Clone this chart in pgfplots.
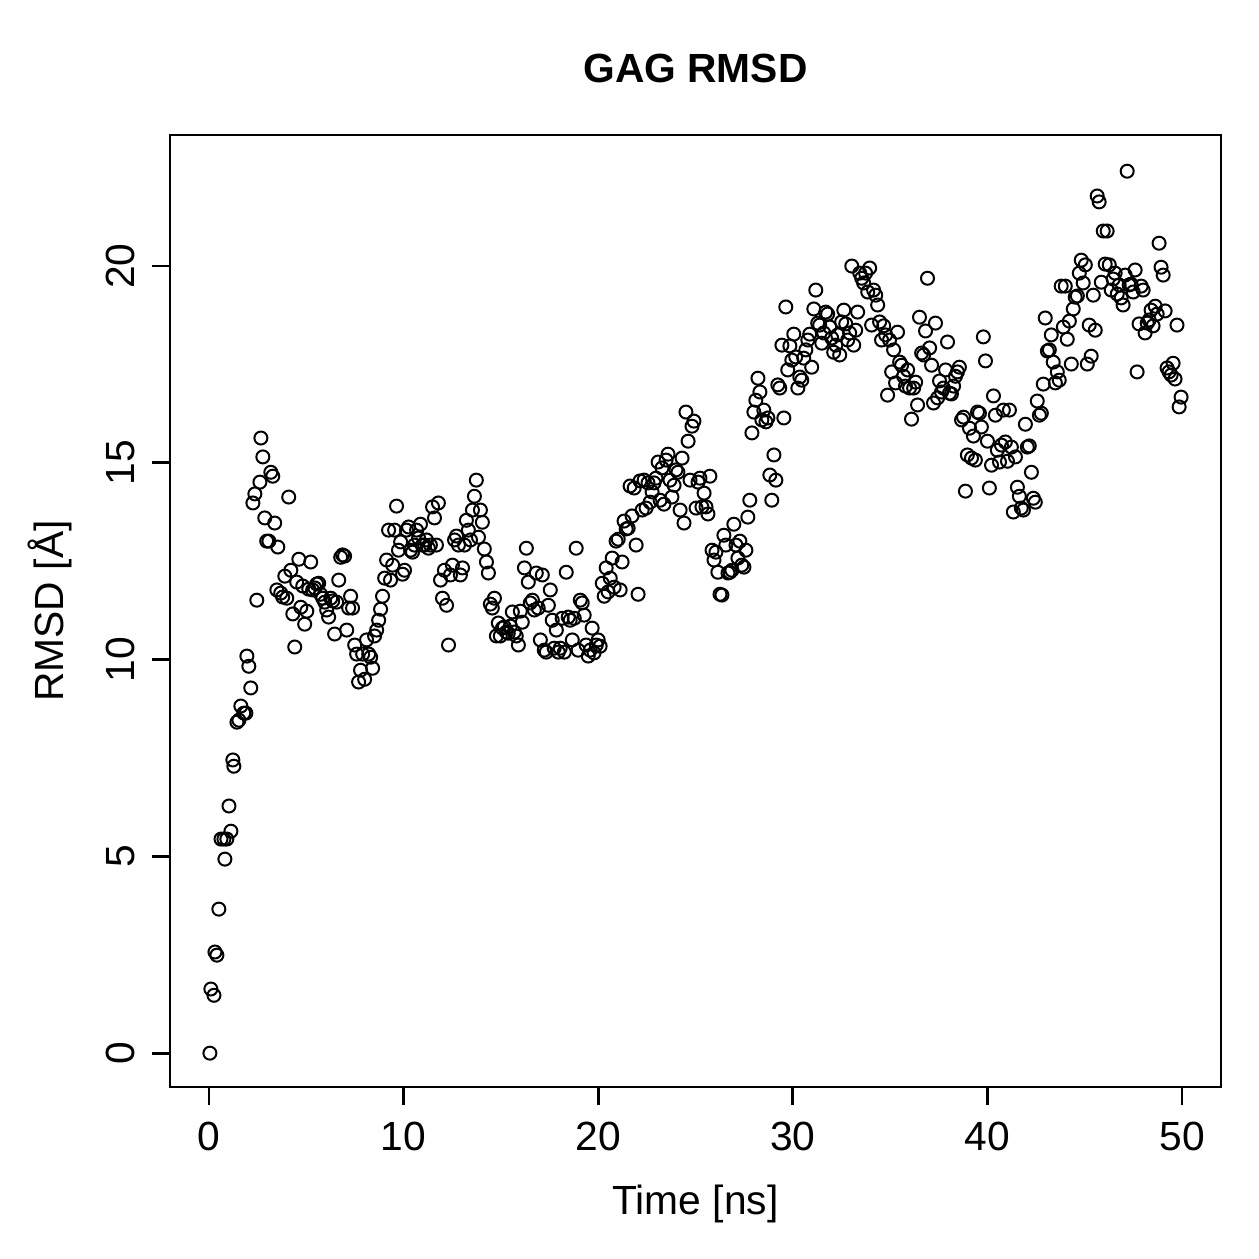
\documentclass[border=0pt]{standalone}
\usepackage{fontspec}
\setmainfont{Liberation Sans}
\usepackage{pgfplots}
\pgfplotsset{compat=1.18}
\begin{document}
\begin{tikzpicture}
\begin{axis}[
  at={(0,0)}, anchor=south west,
  scale only axis, width=420.4pt, height=380.8pt,
  xmin=-2, xmax=52, ymin=-0.86, ymax=23.33,
  xtick={0,10,20,30,40,50}, ytick={0,5,10,15,20},
  xtick pos=bottom, ytick pos=left,
  tick align=outside, major tick length=7.2pt,
  axis line style={line width=1.1pt}, tick style={line width=1.1pt, black},
  /pgf/number format/assume math mode=true,
  font=\fontsize{16.3}{19}\selectfont,
  ticklabel style={font=\fontsize{16.3}{19}\selectfont},
  xticklabel style={anchor=base, yshift=-18pt},
  yticklabel style={xshift=-6.8pt, rotate=90, anchor=base},
  title={\bfseries GAG RMSD},
  every axis title/.style={at={(axis description cs:0.5,1)}, anchor=base, yshift=20.8pt, font=\fontsize{16.3}{19}\selectfont},
  xlabel={Time [ns]}, ylabel={RMSD [Å]},
  every axis x label/.style={at={(axis description cs:0.5,0)}, anchor=base, yshift=-50.8pt},
  every axis y label/.style={at={(axis description cs:0,0.5)}, xshift=-42.4pt, rotate=90, anchor=base},
]
\addplot[only marks, mark=o, mark size=2.6pt, mark options={line width=0.8pt, black}] coordinates {
(0.05,0.00) (0.10,1.63) (0.26,1.47) (0.31,2.57) (0.41,2.49) (0.51,3.66) (0.62,5.44) (0.77,5.44)
(0.82,4.93) (0.92,5.44) (1.03,6.28) (1.13,5.64) (1.23,7.45) (1.28,7.29) (1.44,8.41) (1.54,8.46)
(1.64,8.82) (1.79,8.64) (1.90,8.64) (1.95,10.09) (2.05,9.83) (2.15,9.28) (2.26,13.98) (2.36,14.21)
(2.46,11.51) (2.62,14.51) (2.67,15.63) (2.77,15.15) (2.87,13.60) (2.97,13.01) (3.08,13.01) (3.18,14.76)
(3.28,14.66) (3.38,13.47) (3.54,12.86) (3.49,11.77) (3.69,11.69) (3.79,11.59) (3.90,12.12) (4.00,11.56)
(4.10,14.13) (4.21,12.27) (4.31,11.16) (4.41,10.32) (4.51,11.97) (4.62,12.55) (4.72,11.33) (4.82,11.87)
(4.92,10.90) (5.03,11.23) (5.13,11.79) (5.23,12.48) (5.33,11.77) (5.44,11.82) (5.54,11.92) (5.64,11.94)
(5.74,11.66) (5.85,11.56) (5.95,11.46) (6.05,11.26) (6.15,11.08) (6.26,11.56) (6.36,11.49) (6.46,10.65)
(6.56,11.46) (6.67,12.02) (6.77,12.60) (6.87,12.66) (6.97,12.63) (7.08,10.75) (7.18,11.31) (7.28,11.61)
(7.38,11.31) (7.49,10.37) (7.59,10.14) (7.69,9.43) (7.79,9.73) (7.90,10.14) (8.00,9.50) (8.10,10.50)
(8.21,10.14) (8.31,10.06) (8.41,9.78) (8.51,10.60) (8.62,10.75) (8.72,11.00) (8.82,11.28) (8.92,11.61)
(9.03,12.07) (9.13,12.53) (9.23,13.29) (9.33,12.02) (9.44,12.40) (9.54,13.29) (9.64,13.90) (9.74,12.78)
(9.85,12.99) (9.95,12.17) (10.05,12.27) (10.15,13.29) (10.26,13.37) (10.36,12.78) (10.46,12.73) (10.56,12.91)
(10.67,13.29) (10.77,13.09) (10.87,13.44) (10.97,12.91) (11.08,12.91) (11.18,13.04) (11.28,12.83) (11.38,12.91)
(11.49,13.88) (11.59,13.60) (11.69,12.91) (11.79,13.98) (11.90,12.02) (12.00,11.56) (12.10,12.27) (12.21,11.38)
(12.31,10.37) (12.41,12.15) (12.51,12.40) (12.62,13.04) (12.72,13.14) (12.82,12.91) (12.92,12.15) (13.03,12.33)
(13.13,12.91) (13.23,13.54) (13.33,13.29) (13.44,13.04) (13.54,13.80) (13.64,14.15) (13.74,14.56) (13.85,13.11)
(13.95,13.80) (14.05,13.49) (14.15,12.81) (14.26,12.48) (14.36,12.20) (14.46,11.41) (14.56,11.31) (14.67,11.56)
(14.77,10.60) (14.87,10.93) (14.97,10.60) (15.08,10.80) (15.18,10.83) (15.28,10.70) (15.38,10.67) (15.49,10.85)
(15.59,11.21) (15.69,10.70) (15.79,10.60) (15.90,10.37) (16.00,11.23) (16.10,10.95) (16.21,12.33) (16.31,12.83)
(16.41,11.97) (16.51,11.44) (16.62,11.51) (16.72,11.26) (16.82,12.20) (16.92,11.31) (17.03,10.50) (17.13,12.15)
(17.23,10.24) (17.33,10.19) (17.44,11.38) (17.54,11.77) (17.64,11.00) (17.74,10.29) (17.85,10.75) (17.95,10.19)
(18.05,10.29) (18.15,11.05) (18.26,10.19) (18.36,12.22) (18.46,11.08) (18.56,11.00) (18.67,10.50) (18.77,11.05)
(18.87,12.83) (18.97,10.24) (19.08,11.51) (19.18,11.44) (19.28,11.13) (19.38,10.37) (19.49,10.09) (19.59,10.24)
(19.69,10.80) (19.79,10.17) (19.90,10.37) (20.00,10.50) (20.10,10.34) (20.21,11.94) (20.31,11.61) (20.41,12.33)
(20.51,11.72) (20.62,12.07) (20.72,12.58) (20.82,11.84) (20.92,13.01) (21.03,13.06) (21.13,11.77) (21.23,12.48)
(21.33,13.52) (21.44,13.32) (21.54,13.34) (21.64,14.41) (21.74,13.65) (21.85,14.36) (21.95,12.91) (22.05,11.66)
(22.15,14.54) (22.26,13.80) (22.36,14.56) (22.46,13.85) (22.56,14.49) (22.67,14.00) (22.77,14.26) (22.87,14.49)
(22.97,14.61) (23.08,15.02) (23.18,14.05) (23.28,14.87) (23.38,13.95) (23.49,15.07) (23.59,15.22) (23.69,14.56)
(23.79,14.13) (23.90,14.43) (24.00,14.82) (24.10,14.76) (24.21,13.80) (24.31,15.12) (24.41,13.47) (24.51,16.29)
(24.62,15.55) (24.72,14.56) (24.82,15.93) (24.92,16.06) (25.03,13.85) (25.13,14.51) (25.23,14.61) (25.33,13.88)
(25.44,14.23) (25.54,13.88) (25.64,13.70) (25.74,14.66) (25.85,12.78) (25.95,12.53) (26.05,12.73) (26.15,12.22)
(26.26,11.66) (26.36,11.64) (26.46,13.16) (26.56,12.91) (26.67,12.20) (26.77,12.22) (26.87,12.27) (26.97,13.44)
(27.08,12.91) (27.18,12.58) (27.28,13.01) (27.38,12.40) (27.49,12.35) (27.59,12.78) (27.69,13.62) (27.79,14.05)
(27.90,15.76) (28.00,16.29) (28.10,16.59) (28.21,17.15) (28.31,16.80) (28.41,16.09) (28.51,16.34) (28.62,16.04)
(28.72,16.14) (28.82,14.69) (28.92,14.05) (29.03,15.20) (29.13,14.56) (29.23,16.98) (29.33,16.90) (29.44,17.99)
(29.54,16.14) (29.64,18.96) (29.74,17.36) (29.85,17.97) (29.95,17.61) (30.05,18.27) (30.15,17.69) (30.26,16.90)
(30.36,17.18) (30.46,17.10) (30.56,17.66) (30.67,17.87) (30.77,18.12) (30.87,18.27) (30.97,17.43) (31.08,18.91)
(31.18,19.39) (31.28,18.55) (31.38,18.50) (31.49,18.04) (31.59,18.30) (31.69,18.83) (31.79,18.78) (31.90,18.45)
(32.00,18.17) (32.10,17.81) (32.21,17.99) (32.31,18.25) (32.41,17.74) (32.51,18.58) (32.62,18.88) (32.72,18.53)
(32.82,18.12) (32.92,18.30) (33.03,20.00) (33.13,17.99) (33.23,18.37) (33.33,18.83) (33.44,19.82) (33.54,19.69)
(33.64,19.57) (33.74,19.82) (33.85,19.34) (33.95,19.95) (34.05,18.50) (34.15,19.39) (34.26,19.26) (34.36,19.01)
(34.46,18.58) (34.56,18.12) (34.67,18.48) (34.77,18.25) (34.87,16.72) (34.97,18.12) (35.08,17.31) (35.18,17.87)
(35.28,17.03) (35.38,18.32) (35.49,17.56) (35.59,17.48) (35.69,17.20) (35.79,16.95) (35.90,17.36) (36.00,16.90)
(36.10,16.11) (36.21,16.90) (36.31,17.05) (36.41,16.47) (36.51,18.70) (36.62,17.79) (36.72,17.74) (36.82,18.35)
(36.92,19.69) (37.03,17.92) (37.13,17.48) (37.23,16.52) (37.33,18.55) (37.44,16.65) (37.54,17.08) (37.64,16.80)
(37.74,16.90) (37.85,17.36) (37.95,18.07) (38.05,16.77) (38.15,16.75) (38.26,16.95) (38.36,17.20) (38.46,17.31)
(38.56,17.43) (38.67,16.09) (38.77,16.16) (38.87,14.28) (38.97,15.20) (39.08,15.88) (39.18,15.12) (39.28,15.68)
(39.38,15.07) (39.49,16.29) (39.59,16.26) (39.69,15.91) (39.79,18.20) (39.90,17.59) (40.00,15.55) (40.10,14.36)
(40.21,14.94) (40.31,16.70) (40.41,16.21) (40.51,15.32) (40.62,15.02) (40.72,15.45) (40.82,16.34) (40.92,15.53)
(41.03,15.04) (41.13,16.34) (41.23,15.40) (41.33,13.75) (41.44,15.15) (41.54,14.38) (41.64,14.15) (41.74,13.85)
(41.85,13.80) (41.95,15.98) (42.05,15.40) (42.15,15.43) (42.26,14.76) (42.36,14.10) (42.46,14.00) (42.56,16.57)
(42.67,16.21) (42.77,16.26) (42.87,17.00) (42.97,18.68) (43.08,17.84) (43.18,17.87) (43.28,18.25) (43.38,17.56)
(43.49,17.03) (43.59,17.31) (43.69,17.10) (43.79,19.49) (43.90,18.45) (44.00,19.49) (44.10,18.14) (44.21,18.60)
(44.31,17.51) (44.41,18.91) (44.51,19.21) (44.62,19.24) (44.72,19.82) (44.82,20.15) (44.92,19.57) (45.03,20.03)
(45.13,17.51) (45.23,18.50) (45.33,17.71) (45.44,19.26) (45.54,18.37) (45.64,21.78) (45.74,21.63) (45.85,19.59)
(45.95,20.89) (46.05,20.05) (46.15,20.89) (46.26,20.03) (46.36,19.39) (46.46,19.67) (46.56,19.82) (46.67,19.29)
(46.77,19.52) (46.87,19.19) (46.97,19.01) (47.08,19.77) (47.18,22.41) (47.28,19.52) (47.38,19.54) (47.49,19.34)
(47.59,19.90) (47.69,17.31) (47.79,18.53) (47.90,19.49) (48.00,19.39) (48.10,18.30) (48.21,18.55) (48.31,18.63)
(48.41,18.88) (48.51,18.48) (48.62,18.98) (48.72,18.78) (48.82,20.58) (48.92,19.97) (49.03,19.77) (49.13,18.86)
(49.23,17.41) (49.33,17.31) (49.44,17.23) (49.54,17.53) (49.64,17.13) (49.74,18.50) (49.85,16.42) (49.95,16.67)
};
\end{axis}
\pgfresetboundingbox
\path[use as bounding box] (-68pt,-68.8pt) rectangle (435.6pt,434.8pt);
\end{tikzpicture}
\end{document}
